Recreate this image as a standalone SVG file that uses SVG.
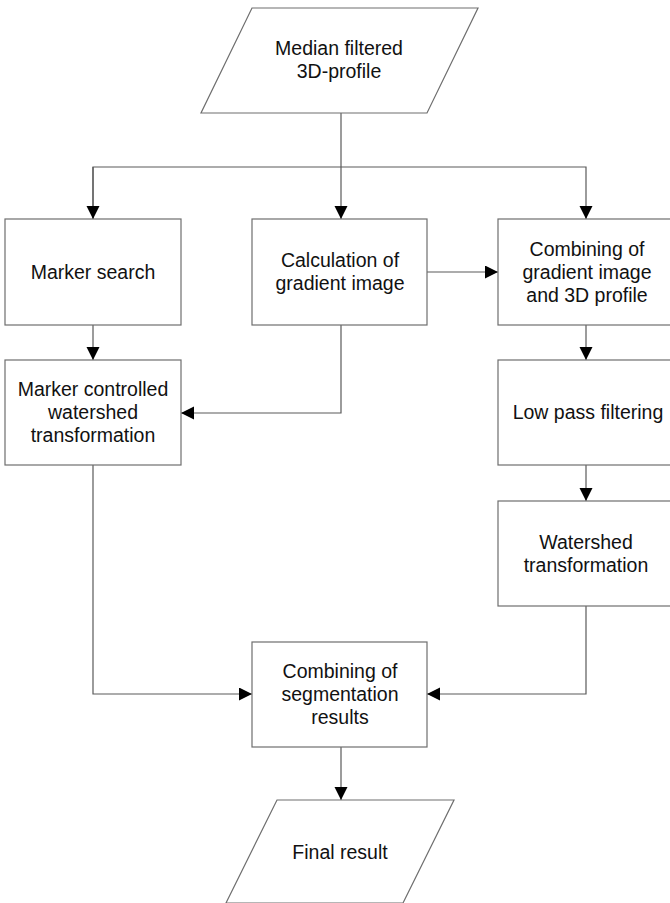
<svg xmlns="http://www.w3.org/2000/svg" width="670" height="903" viewBox="0 0 670 903">
<style>
.box{fill:#fff;stroke:#6e6e6e;stroke-width:1.2}
.ln{fill:none;stroke:#5a5a5a;stroke-width:1.2}
text{font-family:"Liberation Sans",Arial,sans-serif;font-size:19.5px;fill:#111;text-anchor:middle}
</style>
<defs>
<marker id="ah" markerUnits="userSpaceOnUse" markerWidth="14" markerHeight="14" refX="13" refY="6.5" orient="auto">
<path d="M0,0 L13,6.5 L0,13 Z" fill="#000"/>
</marker>
</defs>
<rect width="670" height="903" fill="#fff"/>
<g id="connectors">
<line class="ln" x1="341" y1="113" x2="341" y2="219" marker-end="url(#ah)"/>
<polyline class="ln" points="93,219 93,167 586,167 586,219" marker-end="url(#ah)"/>
<line class="ln" x1="93" y1="167" x2="93" y2="219" marker-end="url(#ah)"/>
<line class="ln" x1="427" y1="272" x2="498" y2="272" marker-end="url(#ah)"/>
<line class="ln" x1="93" y1="325" x2="93" y2="360" marker-end="url(#ah)"/>
<polyline class="ln" points="341,325 341,413 181,413" marker-end="url(#ah)"/>
<line class="ln" x1="586" y1="325" x2="586" y2="360" marker-end="url(#ah)"/>
<line class="ln" x1="586" y1="465" x2="586" y2="501" marker-end="url(#ah)"/>
<polyline class="ln" points="93,465 93,694 252,694" marker-end="url(#ah)"/>
<polyline class="ln" points="586,606 586,694 427,694" marker-end="url(#ah)"/>
<line class="ln" x1="341" y1="747" x2="341" y2="800" marker-end="url(#ah)"/>
</g>
<g id="n-start">
<polygon class="box" points="252,8 478,8 427,113 201,113"/>
<text x="339" y="55">Median filtered</text>
<text x="339" y="78">3D-profile</text>
</g>
<g id="n-marker-search">
<rect class="box" x="5" y="219" width="176" height="106"/>
<text x="93" y="279">Marker search</text>
</g>
<g id="n-gradient">
<rect class="box" x="252" y="219" width="175" height="106"/>
<text x="340" y="267">Calculation of</text>
<text x="340" y="290">gradient image</text>
</g>
<g id="n-combine-grad">
<rect class="box" x="498" y="219" width="178" height="106"/>
<text x="587" y="256">Combining of</text>
<text x="587" y="279">gradient image</text>
<text x="587" y="302">and 3D profile</text>
</g>
<g id="n-marker-ws">
<rect class="box" x="5" y="360" width="176" height="105"/>
<text x="93" y="396">Marker controlled</text>
<text x="93" y="419">watershed</text>
<text x="93" y="442">transformation</text>
</g>
<g id="n-lowpass">
<rect class="box" x="498" y="360" width="178" height="105"/>
<text x="588" y="419">Low pass filtering</text>
</g>
<g id="n-watershed">
<rect class="box" x="498" y="501" width="178" height="105"/>
<text x="586" y="549">Watershed</text>
<text x="586" y="572">transformation</text>
</g>
<g id="n-combine-seg">
<rect class="box" x="252" y="642" width="175" height="105"/>
<text x="340" y="678">Combining of</text>
<text x="340" y="701">segmentation</text>
<text x="340" y="724">results</text>
</g>
<g id="n-final">
<polygon class="box" points="277,800 454,800 403,903 226,903"/>
<text x="340" y="859">Final result</text>
</g>
</svg>
